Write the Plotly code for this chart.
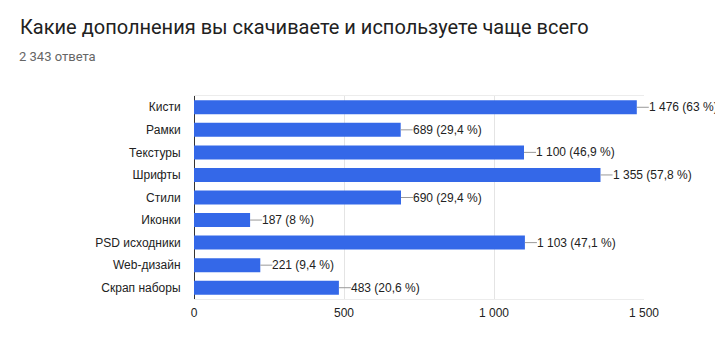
import plotly.graph_objects as go

# Survey answers: add-on types and how many respondents chose each
categories = ["Кисти", "Рамки", "Текстуры", "Шрифты", "Стили",
              "Иконки", "PSD исходники", "Web-дизайн", "Скрап наборы"]
counts = [1476, 689, 1100, 1355, 690, 187, 1103, 221, 483]
percents = ["63", "29,4", "46,9", "57,8", "29,4", "8", "47,1", "9,4", "20,6"]
x_ticks = [0, 500, 1000, 1500]
x_tick_text = ["0", "500", "1 000", "1 500"]

TITLE = "Какие дополнения вы скачиваете и используете чаще всего"
SUBTITLE = "2 343 ответа"


def fmt_int(n):
    return f"{n:,}".replace(",", " ")


W, H = 715, 348
ML, MR, MT, MB = 194, 71, 96, 49
plot_w = W - ML - MR
plot_h = H - MT - MB

fig = go.Figure(
    go.Bar(
        x=counts,
        y=categories,
        orientation="h",
        marker=dict(color="#3468e8", line=dict(width=0)),
        hoverinfo="x+y",
    )
)

# value labels with a short grey leader line from the bar end
for cat, n, p in zip(categories, counts, percents):
    fig.add_annotation(
        x=n, y=cat, xref="x", yref="y",
        text=f"{fmt_int(n)} ({p} %)",
        showarrow=True, arrowhead=0, arrowwidth=1, arrowcolor="#999999",
        ax=12, ay=0, xanchor="left", yanchor="middle",
        borderpad=0, borderwidth=0,
        font=dict(family="Liberation Sans, Arial, sans-serif", size=12, color="#222222"),
    )

fig.add_annotation(
    x=(19 - ML) / plot_w, y=(H - MB - 57) / plot_h,
    xref="paper", yref="paper", xanchor="left", yanchor="middle",
    text=SUBTITLE, showarrow=False, borderpad=0, borderwidth=0,
    font=dict(family="Roboto, sans-serif", size=13, color="#666666"),
)

fig.update_layout(
    width=W, height=H,
    margin=dict(l=ML, r=MR, t=MT, b=MB, pad=0),
    paper_bgcolor="white", plot_bgcolor="white",
    bargap=0.38,
    showlegend=False,
    title=dict(
        text=TITLE, xref="container", yref="container",
        x=20 / W, xanchor="left", y=1 - 27 / H, yanchor="middle",
        font=dict(family="Roboto, sans-serif", size=20, color="#212121"),
    ),
    xaxis=dict(
        range=[0, 1500], tickvals=x_ticks, ticktext=x_tick_text,
        showgrid=True, gridcolor="#e4e4e4", gridwidth=1,
        zeroline=True, zerolinecolor="#333333", zerolinewidth=1,
        showline=True, linecolor="#ececec", linewidth=1, mirror=True,
        ticks="outside", ticklen=3, tickcolor="rgba(0,0,0,0)",
        tickfont=dict(family="Liberation Sans, Arial, sans-serif", size=12, color="#222222"),
        fixedrange=True,
    ),
    yaxis=dict(
        autorange="reversed",
        showgrid=False, zeroline=False, showline=False,
        ticks="outside", ticklen=10, tickcolor="rgba(0,0,0,0)",
        tickfont=dict(family="Liberation Sans, Arial, sans-serif", size=12, color="#222222"),
        fixedrange=True,
    ),
)

fig.write_html("out.html")
